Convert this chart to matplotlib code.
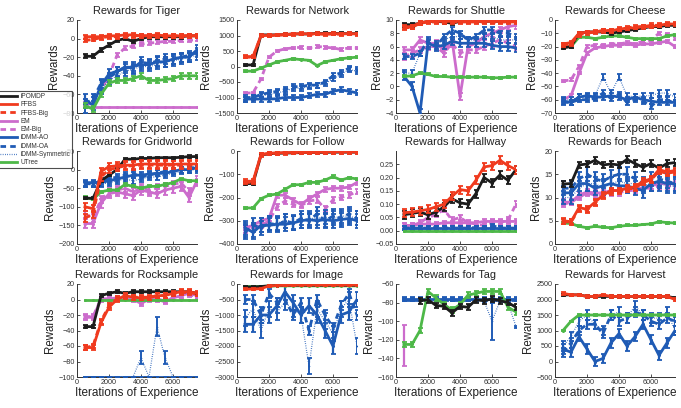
import numpy as np
import matplotlib
matplotlib.use("Agg")
import matplotlib.pyplot as plt

plt.rcParams['font.family'] = ['Liberation Sans', 'DejaVu Sans']

N = np.nan
X = [500, 1000, 1500, 2000, 2500, 3000, 3500, 4000, 4500, 5000, 5500, 6000, 6500, 7000, 7500]

SERIES = ['EM', 'EM-Big', 'iDMM-Symmetric', 'iDMM-OA', 'iDMM-AO', 'UTree', 'iPOMDP', 'FFBS-Big', 'FFBS']
LEGEND_ORDER = ['iPOMDP', 'FFBS', 'FFBS-Big', 'EM', 'EM-Big', 'iDMM-AO', 'iDMM-OA', 'iDMM-Symmetric', 'UTree']

# ---------------- data (values, error half-width) ----------------
tiger = {
    'iPOMDP': ([-19, -19, -12, -7, -2, 0, -3, 0, 2, 2, 2, 2, 2, 3, 3], 2),
    'FFBS': ([2, 2, 2, 3, 3, 4, 4, 3, 3, 4, 3, 3, 3, 3, 3], 2),
    'FFBS-Big': ([-2, -1, 1, 2, 2, 3, 3, 3, 3, 3, 3, 3, 3, 3, 3], 2),
    'EM': ([-74, -74, -74, -74, -74, -74, -74, -74, -74, -74, -74, -74, -74, -74, -74], 0),
    'EM-Big': ([-70, -70, -55, -40, -18, -10, -8, -6, -5, -4, -3, -3, -2, -2, -1], 2),
    'iDMM-AO': ([-65, -72, -50, -38, -35, -32, -30, -28, -28, -25, -25, -22, -20, -20, -12], 5),
    'iDMM-OA': ([-70, -65, -48, -42, -36, -30, -32, -25, -27, -24, -22, -22, -20, -18, -15], 5),
    'iDMM-Symmetric': ([-75, -68, -55, -45, -40, -35, -33, -30, -30, -28, -25, -24, -22, -20, -18], 5),
    'UTree': ([-72, -76, -60, -48, -45, -45, -43, -40, -45, -45, -44, -43, -40, -40, -40], 3),
}
network = {
    'iPOMDP': ([50, 50, 1020, 1020, 1020, 1030, 1050, 1050, 1050, 1070, 1060, 1070, 1060, 1060, 1060], 40),
    'FFBS': ([320, 320, 1000, 1000, 1020, 1030, 1050, 1060, 1050, 1060, 1050, 1060, 1050, 1060, 1050], 40),
    'FFBS-Big': ([300, 300, 990, 1000, 1010, 1020, 1040, 1050, 1040, 1050, 1040, 1050, 1040, 1050, 1040], 40),
    'EM-Big': ([-860, -850, -400, 300, 500, 570, 600, 620, 600, 650, 620, 600, 550, 600, 600], 40),
    'iDMM-AO': ([-1050, -1050, -1050, -1050, -1040, -1000, -1000, -1000, -950, -900, -900, -800, -750, -800, -850], 80),
    'iDMM-OA': ([-1000, -1000, -900, -850, -800, -750, -650, -650, -600, -600, -500, -300, -200, -50, -100], 80),
    'iDMM-Symmetric': ([-1050, -1000, -950, -900, -850, -800, -700, -700, -650, -600, -550, -400, -250, -100, -150], 80),
    'UTree': ([-150, -150, -50, 50, 150, 200, 250, 220, 200, 30, 150, 200, 250, 280, 300], 25),
}
shuttle = {
    'iPOMDP': ([9.3, 9.3, 9.5, 9.8, 9.8, 9.7, 9.5, 9.8, 9.8, 9.8, 9.8, 9.8, 9.8, 9.8, 9.8], 0.3),
    'FFBS': ([9.0, 9.0, 9.6, 9.8, 9.8, 9.8, 9.8, 9.8, 9.8, 9.8, 9.8, 9.8, 9.8, 9.8, 9.8], 0.3),
    'FFBS-Big': ([8.8, 8.9, 9.5, 9.7, 9.7, 9.7, 9.7, 9.7, 9.7, 9.7, 9.7, 9.7, 9.7, 9.7, 9.7], 0.3),
    'EM': ([5.5, 5.5, 7, 6.5, 6.5, 5.5, 7, -1.5, 6, 6.5, 7.5, 8, 8.5, 9, 9.2], 0.5),
    'EM-Big': ([4.5, 5, 5.5, 6, 6, 5, 6.5, 5, 5.5, 5.5, 6, 6.5, 7, 6.5, 6], 0.5),
    'iDMM-AO': ([1.5, 0, -4, 6.5, 6, 6.2, 6.8, 6.5, 6.5, 6.5, 6.5, 6.2, 6.0, 6.0, 5.8], 0.6),
    'iDMM-OA': ([4.5, 4.5, 5, 7, 6, 7.5, 8.5, 8, 7, 7.5, 8.5, 8.5, 8, 8, 7.5], 0.4),
    'iDMM-Symmetric': ([2, 2, 5, 6, 6.5, 7, 7.5, 7.5, 7, 7, 7.5, 7.5, 7, 7, 7], 0.4),
    'UTree': ([1.5, 1.6, 2.0, 1.8, 1.5, 1.5, 1.4, 1.4, 1.4, 1.4, 1.4, 1.3, 1.3, 1.4, 1.4], 0.15),
}
cheese = {
    'iPOMDP': ([-21, -20, -10, -9, -9, -9, -10, -9, -8, -7, -6, -5, -5, -4, -4], 1),
    'FFBS': ([-18, -17, -10, -9, -9, -8, -8, -7, -6, -6, -5, -5, -4, -3, -3], 1),
    'FFBS-Big': ([-19, -18, -11, -10, -9, -8, -8, -7, -6, -5, -5, -4, -4, -3, -3], 1.5),
    'EM': ([-60, -57, -40, -25, -21, -20, -19, -19, -18, -19, -18, -18, -17, -16, -20], 1),
    'EM-Big': ([-46, -45, -35, -20, -19, -19, -18, -18, -17, -18, -16, -15, -10, -11, -14], 1),
    'iDMM-AO': ([-61, -62, -58, -57, -58, -58, -57, -58, -60, -58, -60, -61, -62, -62, -62], 2),
    'iDMM-OA': ([-62, -62, -60, -60, -59, -55, -59, -56, -62, -60, -61, -65, -60, -60, -63], 2),
    'iDMM-Symmetric': ([-60, -60, -58, -58, -57, -43, -55, -43, -57, -58, -57, -57, -55, -55, -58], 2),
    'UTree': ([-20, -20, -13, -13, -14, -13, -12, -12, -13, -14, -14, -14, -14, -12, -11], 0.8),
}
gridworld = {
    'iPOMDP': ([-77, -77, -30, -15, 0, 28, 28, 30, 30, 32, 32, 32, 33, 35, 35], 3),
    'FFBS': ([-100, -105, -5, 8, 10, 12, 12, 15, 15, 15, 15, 14, 15, 15, 15], 10),
    'FFBS-Big': ([-130, -120, -20, 0, 5, 10, 10, 12, 12, 12, 12, 12, 12, 12, 12], 10),
    'EM': ([-145, -145, -90, -65, -60, -65, -70, -55, -60, -65, -55, -50, -45, -75, -30], 12),
    'EM-Big': ([-120, -130, -80, -60, -55, -50, -60, -50, -55, -50, -45, -40, -35, -60, -35], 10),
    'iDMM-AO': ([-35, -35, -35, -30, -25, -20, -15, -15, -12, -10, -10, -5, 0, 0, 5], 8),
    'iDMM-OA': ([-38, -38, -30, -25, -20, -15, -10, -20, -15, -10, -5, -5, 0, 5, 5], 8),
    'iDMM-Symmetric': ([-40, -40, -40, -35, -30, -25, -30, -25, -20, -20, -15, -10, -5, 0, 0], 8),
    'UTree': ([-75, -80, -60, -55, -55, -40, -45, -50, -45, -45, -40, -35, -25, -30, -30], 3),
}
follow = {
    'iPOMDP': ([-140, -140, -18, -12, -10, -9, -8, -7, -7, -6, -6, -5, -5, -5, -5], 5),
    'FFBS': ([-130, -130, -15, -10, -8, -7, -6, -5, -5, -4, -4, -3, -3, -3, -3], 8),
    'FFBS-Big': ([-135, -135, -16, -11, -9, -8, -7, -6, -6, -5, -5, -4, -4, -4, -4], 8),
    'EM': ([-330, -320, -300, -290, -190, -190, -210, -230, -205, -185, -165, -160, -160, -155, -135], 10),
    'EM-Big': ([-340, -330, -320, -300, -240, -215, -230, -235, -215, -210, -250, -210, -200, -190, -175], 12),
    'iDMM-AO': ([-330, -350, -320, -320, -315, -315, -310, -300, -295, -300, -295, -300, -295, -290, -300], 30),
    'iDMM-OA': ([-350, -320, -330, -310, -320, -300, -310, -290, -300, -270, -300, -280, -290, -270, -290], 30),
    'iDMM-Symmetric': ([-340, -340, -320, -310, -310, -300, -305, -300, -290, -290, -285, -290, -280, -280, -290], 30),
    'UTree': ([-245, -245, -205, -190, -185, -165, -145, -145, -135, -135, -125, -110, -125, -115, -120], 5),
}
hallway = {
    'iPOMDP': ([0.06, 0.065, 0.07, 0.06, 0.07, 0.09, 0.12, 0.105, 0.1, 0.14, 0.2, 0.18, 0.21, 0.19, 0.23], 0.015),
    'FFBS': ([0.068, 0.07, 0.075, 0.08, 0.09, 0.10, 0.13, 0.155, 0.15, 0.19, 0.24, 0.245, 0.265, 0.245, 0.23], 0.015),
    'EM': ([0.02, 0.02, 0.025, 0.025, 0.025, 0.03, 0.03, 0.03, 0.03, 0.03, 0.035, 0.035, 0.035, 0.035, 0.035], 0.008),
    'EM-Big': ([0.02, 0.02, 0.03, 0.05, 0.06, 0.08, 0.04, 0.05, 0.03, 0.025, 0.02, 0.03, 0.03, 0.04, 0.1], 0.01),
    'iDMM-AO': ([0.012, 0.012, 0.012, 0.012, 0.012, 0.012, 0.012, 0.012, 0.012, 0.012, 0.012, 0.012, 0.012, 0.012, 0.012], 0.005),
    'iDMM-OA': ([0.01, 0.01, 0.01, 0.01, 0.012, 0.01, 0.01, 0.01, 0.01, 0.012, 0.01, 0.02, 0.01, 0.01, 0.01], 0.006),
    'iDMM-Symmetric': ([0.005, 0.005, 0.005, 0.005, 0.005, 0.005, 0.005, 0.005, 0.005, 0.005, 0.005, 0.005, 0.005, 0.005, 0.005], 0.003),
    'UTree': ([0, 0, 0, 0, 0, 0, 0, 0, 0, 0, 0, 0, 0, 0, 0], 0),
}
beach = {
    'iPOMDP': ([12.9, 13, 17, 17.2, 18, 17, 17.2, 17, 18.2, 17.3, 16.5, 17.3, 16.3, 17.3, 17.5], 0.7),
    'FFBS': ([5, 4.8, 7.8, 7.5, 9, 10.5, 11.5, 11.5, 12, 12.3, 13.5, 14, 16, 15.5, 15.8], 0.6),
    'FFBS-Big': ([4.8, 4.7, 7.5, 7.3, 8.8, 10.2, 11.2, 11.3, 11.8, 12, 13.2, 13.8, 15.6, 15.2, 15.5], 0.6),
    'EM': ([9, 9, 10.5, 11.2, 11, 11, 11.5, 11.5, 12, 12, 12, 12.5, 13, 13, 13], 0.6),
    'EM-Big': ([8.5, 9, 10, 11, 10.5, 10.5, 11, 11, 11.5, 11.5, 12, 12, 12.5, 12.5, 12.5], 0.6),
    'iDMM-AO': ([11, 11, 13, 13, 12, 12.5, 13, 12.5, 12.5, 12, 11.5, 13, 13.5, 13, 13], 1.5),
    'iDMM-OA': ([12, 12, 14, 15, 14, 13.5, 14.5, 15, 15, 14, 13, 14, 14, 13.5, 13], 1.5),
    'iDMM-Symmetric': ([10, 10, 12, 13, 13, 12, 13, 13.5, 13, 13, 12.5, 13, 13, 12.5, 12.5], 1.5),
    'UTree': ([4.5, 4.4, 3.8, 3.5, 3.8, 3.6, 3.5, 3.8, 4.0, 4.0, 4.2, 4.3, 4.8, 4.6, 4.5], 0.2),
}
rocksample = {
    'iPOMDP': ([-35, -35, 5, 8, 10, 8, 10, 10, 10, 10, 10, 10, 10, 10, 8], 2),
    'FFBS': ([-62, -62, -30, -10, 0, 5, 3, 2, 2, 5, 5, 8, 10, 10, 8], 3),
    'FFBS-Big': ([-62, -60, -28, -8, 1, 4, 3, 3, 3, 5, 5, 7, 9, 9, 7], 3),
    'EM': ([-23, -23, 0, 0, 2, 2, 0, -5, 0, 0, -3, 2, 5, 8, 5], 3),
    'EM-Big': ([-22, -22, 1, 1, 2, 2, 1, -3, 1, 1, -2, 2, 4, 6, 4], 3),
    'iDMM-AO': ([-100, -100, -100, -100, -100, -100, -100, -100, -100, -100, -100, -100, -100, -100, -100], 0),
    'iDMM-OA': ([-100, -100, -100, -100, -100, -100, -100, -100, -100, -100, -100, -100, -100, -100, -100], 0),
    'iDMM-Symmetric': ([-100, -100, -100, -100, -100, -100, -100, -75, -100, -35, -75, -100, -100, -100, -100], 0),
    'UTree': ([0, 0, 0, 0, 0, 0, 0, 0, 0, 0, 0, 0, 0, 0, 0], 0),
}
rocksample_sym_err = [0, 0, 0, 0, 0, 0, 0, 8, 0, 12, 8, 0, 0, 0, 0]
image = {
    'iPOMDP': ([-100, -100, -80, -60, -50, -40, -40, -40, -40, -40, -40, -40, -40, -40, -40], 20),
    'FFBS': ([-170, -160, -150, -60, -50, -40, -40, -30, -30, -30, -30, -30, -30, -30, -30], 30),
    'iDMM-AO': ([-1300, -1300, -1000, -1000, -700, -250, -600, -1000, -700, -1000, -1500, -2000, -1000, -900, -500], 250),
    'iDMM-OA': ([-500, -500, -1000, -300, -600, -500, -1000, -600, -1500, -500, -1000, -1400, -700, -300, -1000], 150),
    'iDMM-Symmetric': ([-1100, -800, -1500, -800, -900, -600, -800, -1000, -2650, -800, -1200, -1600, -800, -500, -2000], 250),
    'UTree': ([-80, -80, -80, -70, -60, -60, -60, -60, -60, -60, -60, -60, -60, -60, -60], 15),
}
tag = {
    'iPOMDP': ([N, N, -78, -77, -83, -84, -91, -84, -85, -77, -78, -76, -78, -80, -85], 3),
    'EM': ([-126, N, N, N, N, N, N, N, N, N, N, N, N, N, N], 22),
    'iDMM-AO': ([-76, -76, -76, -76, -76, -76, -76, -76, -76, -76, -76, -76, -76, -76, -76], 1.5),
    'iDMM-OA': ([-77, -77, -77, -77, -77, -77, -77, -77, -77, -77, -77, -77, -77, -77, -77], 1.5),
    'iDMM-Symmetric': ([-77, -77, -77, -77, -77, -77, -77, -77, -77, -78, -78, -100, -78, -80, -106], 3),
    'UTree': ([-125, -125, -110, -68, -75, -82, -88, -82, -72, -70, -68, -68, -68, -85, -90], 3),
}
tag_sym_err = [1, 1, 1, 1, 1, 1, 1, 1, 1, 1, 1, 20, 1, 1, 1]
harvest = {
    'iPOMDP': ([2150, 2150, 2150, 2100, 2100, 2100, 2100, 2100, 2100, 2100, 2100, 2100, 2100, 2100, 2050], 40),
    'FFBS': ([2200, 2150, 2150, 2100, 2100, 2150, 2100, 2100, 2100, 2100, 2100, 2100, 2100, 2100, 2000], 40),
    'iDMM-AO': ([400, 300, 800, 400, 0, 100, 600, 900, 500, 800, 1200, 700, 200, 600, 1000], 150),
    'iDMM-OA': ([300, 600, 1000, 1200, 1200, 900, 1500, 1300, 1400, 1600, 1500, 1300, 1200, 1400, 1300], 150),
    'iDMM-Symmetric': ([500, 800, 1300, 1500, 1200, 1000, 1500, 1600, 1400, 1800, 1500, 1400, 1400, 1600, 1000], 150),
    'UTree': ([1000, 1300, 1500, 1500, 1500, 1500, 1500, 1500, 1500, 1500, 1500, 1500, 1500, 1500, 1500], 20),
}

PANELS = [
    ('Tiger', tiger, (-80, 20), [-80, -60, -40, -20, 0, 20]),
    ('Network', network, (-1500, 1500), [-1500, -1000, -500, 0, 500, 1000, 1500]),
    ('Shuttle', shuttle, (-4, 10), [-4, -2, 0, 2, 4, 6, 8, 10]),
    ('Cheese', cheese, (-70, 0), [-70, -60, -50, -40, -30, -20, -10, 0]),
    ('Gridworld', gridworld, (-200, 50), [-200, -150, -100, -50, 0, 50]),
    ('Follow', follow, (-400, 0), [-400, -300, -200, -100, 0]),
    ('Hallway', hallway, (-0.05, 0.3), [-0.05, 0, 0.05, 0.1, 0.15, 0.2, 0.25]),
    ('Beach', beach, (0, 20), [0, 5, 10, 15, 20]),
    ('Rocksample', rocksample, (-100, 20), [-100, -80, -60, -40, -20, 0, 20]),
    ('Image', image, (-3000, 0), [-3000, -2500, -2000, -1500, -1000, -500, 0]),
    ('Tag', tag, (-160, -60), [-160, -140, -120, -100, -80, -60]),
    ('Harvest', harvest, (-500, 2500), [-500, 0, 500, 1000, 1500, 2000, 2500]),
]
SPECIAL_ERR = {('Rocksample', 'iDMM-Symmetric'): rocksample_sym_err,
               ('Tag', 'iDMM-Symmetric'): tag_sym_err}

# ---------------- styles ----------------
BLACK, RED, PINK, BLUE, GREEN = '#1c1c1c', '#f03a1e', '#cc6ccc', '#1f5bb5', '#4db848'
STYLE = {
    'iPOMDP': dict(color=BLACK, ls='-', lw=2.0),
    'FFBS': dict(color=RED, ls='-', lw=2.0),
    'FFBS-Big': dict(color=RED, ls=(0, (2, 1.5)), lw=2.0),
    'EM': dict(color=PINK, ls='-', lw=2.0),
    'EM-Big': dict(color=PINK, ls=(0, (2, 1.5)), lw=2.0),
    'iDMM-AO': dict(color=BLUE, ls='-', lw=2.0),
    'iDMM-OA': dict(color=BLUE, ls=(0, (2, 1.5)), lw=2.0),
    'iDMM-Symmetric': dict(color=BLUE, ls=(0, (0.6, 1.2)), lw=0.9),
    'UTree': dict(color=GREEN, ls='-', lw=2.0),
}

fig = plt.figure(figsize=(6.81, 4.08), dpi=100)
W, H = 681.0, 408.0
lefts = [77, 237, 396, 555]
tops = [20, 151, 284]
aw, ah = 120, 93

handles = {}
for i, (name, data, ylim, yticks) in enumerate(PANELS):
    r, c = divmod(i, 4)
    ax = fig.add_axes([lefts[c] / W, 1 - (tops[r] + ah) / H, aw / W, ah / H])
    for s in SERIES:
        if s not in data:
            continue
        vals, err = data[s]
        st = STYLE[s]
        e = SPECIAL_ERR.get((name, s), err)
        z = SERIES.index(s) + 2
        if np.any(np.asarray(e) > 0):
            ax.errorbar(X, vals, yerr=e, fmt='none', ecolor=st['color'],
                        elinewidth=1.6 if s != 'iDMM-Symmetric' else 1.4,
                        capsize=1.8, capthick=1.3, zorder=z)
        ax.plot(X, vals, color=st['color'], ls=st['ls'], lw=st['lw'],
                marker='o', ms=2.2 if s != 'iDMM-Symmetric' else 1.2,
                mew=0, zorder=z + 0.5)
    ax.set_xlim(0, 7500)
    ax.set_ylim(*ylim)
    ax.set_xticks([0, 2000, 4000, 6000])
    ax.set_yticks(yticks)
    ax.tick_params(direction='in', length=2, width=0.6, labelsize=5.2,
                   colors='#333333', pad=1.5)
    for sp in ['top', 'right']:
        ax.spines[sp].set_visible(False)
    for sp in ['left', 'bottom']:
        ax.spines[sp].set_linewidth(0.7)
        ax.spines[sp].set_color('#333333')
    ax.set_title('Rewards for ' + name, fontsize=7.9, color='#222222', pad=4)
    ax.set_xlabel('Iterations of Experience', fontsize=8.5, color='#222222', labelpad=0.5)
    ax.set_ylabel('Rewards', fontsize=8.3, color='#222222', labelpad=2)

for s in LEGEND_ORDER:
    st = STYLE[s]
    handles[s] = plt.Line2D([], [], color=st['color'], ls=st['ls'], lw=st['lw'])

leg = fig.legend([handles[s] for s in LEGEND_ORDER], LEGEND_ORDER,
                 loc='upper left', bbox_to_anchor=(-0.003, 1 - 91 / H),
                 fontsize=4.7, frameon=True, fancybox=False, edgecolor='#222222',
                 handlelength=2.6, handletextpad=0.5, labelspacing=0.2,
                 borderpad=0.3, borderaxespad=0)
leg.get_frame().set_linewidth(0.8)
for t in leg.get_texts():
    t.set_color('#333333')

fig.savefig('out.png', dpi=100)
